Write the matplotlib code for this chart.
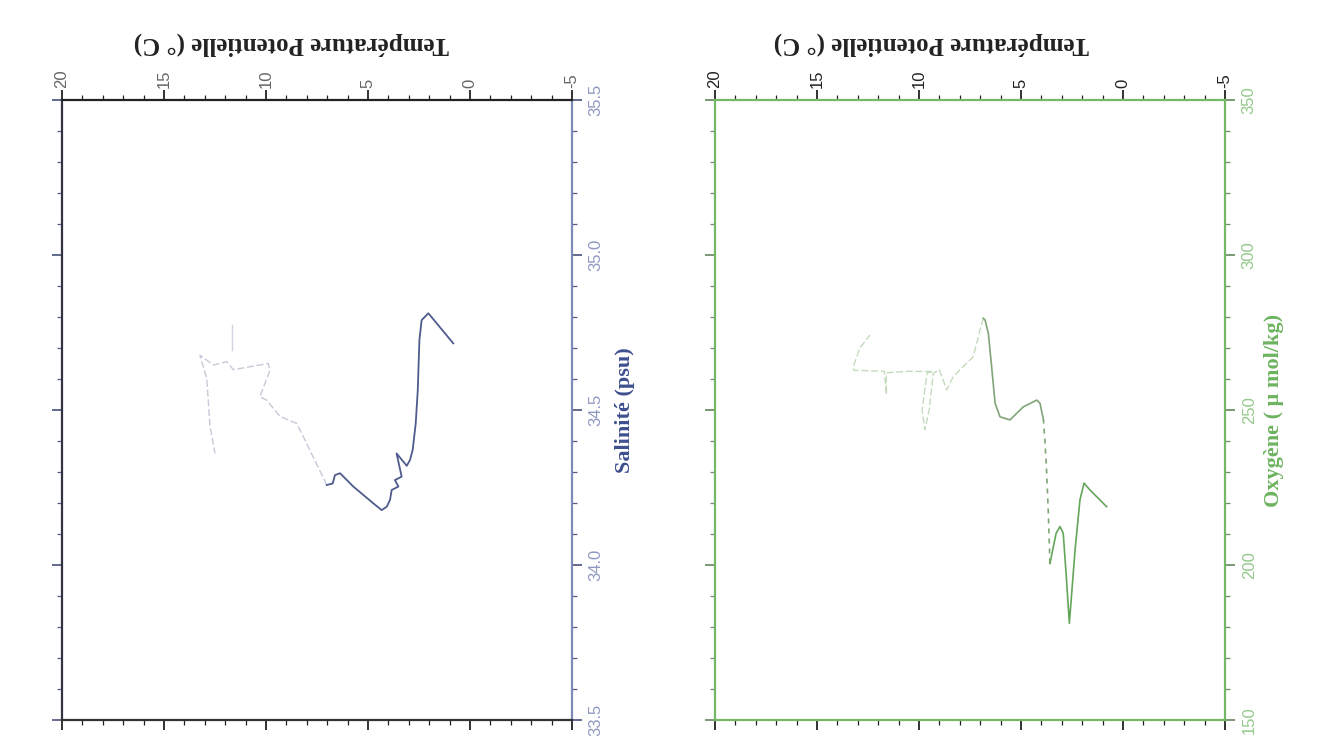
import matplotlib.pyplot as plt
import numpy as np

# Left panel: potential temperature vs salinity (deep part, then shallow noisy part)
ts_temp_deep = [0.82, 2.04, 2.37, 2.48, 2.56, 2.66, 2.81, 2.94, 3.10, 3.60, 3.35, 3.68,
                3.51, 3.84, 3.92, 4.08, 4.33, 4.74, 5.72, 6.37, 6.62, 6.73, 7.02]
ts_sal_deep = [34.715, 34.812, 34.790, 34.726, 34.565, 34.457, 34.371, 34.339, 34.320,
               34.360, 34.285, 34.274, 34.253, 34.242, 34.210, 34.188, 34.177, 34.199,
               34.253, 34.296, 34.290, 34.263, 34.258]
ts_temp_surf = [7.02, 8.17, 8.50, 9.31, 9.97, 10.30, 9.80, 9.89, 11.60, 11.93, 12.58,
                13.24, 12.90, 12.75, 12.50]
ts_sal_surf = [34.258, 34.414, 34.457, 34.479, 34.532, 34.543, 34.629, 34.650, 34.630,
               34.656, 34.645, 34.677, 34.600, 34.450, 34.360]

# Right panel: potential temperature vs oxygen
to_temp_deep = [0.80, 1.62, 1.91, 2.11, 2.35, 2.63, 2.79, 2.93, 3.09, 3.28, 3.58]
to_oxy_deep = [218.8, 224.2, 226.4, 221.0, 204.8, 181.2, 197.3, 210.2, 212.4, 210.2, 200.5]
to_temp_gap = [3.58, 3.66, 3.74, 3.82, 3.90]
to_oxy_gap = [200.5, 216.7, 229.6, 239.3, 246.8]
to_temp_mid = [3.90, 4.07, 4.23, 4.89, 5.54, 6.03, 6.27, 6.44, 6.60, 6.76, 6.85]
to_oxy_mid = [246.8, 252.2, 253.2, 251.0, 246.8, 247.8, 252.2, 264.0, 274.7, 279.0, 279.6]
to_temp_surf = [6.85, 7.00, 7.34, 8.32, 8.64, 9.00, 9.30, 9.50, 9.71, 9.85, 9.60, 9.30,
                10.5, 11.6, 11.6, 11.7, 13.2, 13.22, 12.9, 12.4]
to_oxy_surf = [279.6, 276.0, 267.2, 260.8, 256.5, 263.0, 261.8, 250.0, 243.6, 250.0,
               262.0, 262.4, 262.5, 262.0, 255.0, 262.5, 262.8, 264.0, 270.0, 274.2]

temp_ticks = [20, 15, 10, 5, 0, -5]
sal_ticks = [33.5, 34.0, 34.5, 35.0, 35.5]
oxy_ticks = [150, 200, 250, 300, 350]

serif = 'Liberation Serif'
sans = 'Liberation Sans'

fig = plt.figure(figsize=(13.35, 7.53), dpi=100)
ax1 = fig.add_axes([62 / 1335, 1 - 720 / 753, 510 / 1335, 620 / 753])
ax2 = fig.add_axes([715 / 1335, 1 - 720 / 753, 510 / 1335, 620 / 753])


def style_axes(ax, ylim, yticks, yminor, ylabel, side_col, label_col, tick_col, frame_col):
    ax.set_xlim(20, -5)
    ax.set_ylim(*ylim)
    ax.set_xticks(temp_ticks)
    ax.set_xticks(np.arange(-5, 21, 1), minor=True)
    ax.set_yticks(yticks)
    ax.set_yticks(yminor, minor=True)
    ax.set_xticklabels([str(t) for t in temp_ticks])
    ax.set_yticklabels([f'{v:g}' if isinstance(v, int) else f'{v:.1f}' for v in yticks])
    ax.xaxis.set_label_position('top')
    ax.yaxis.set_label_position('right')
    ax.tick_params(which='both', direction='out', top=True, bottom=True, left=True,
                   right=True, labeltop=True, labelbottom=False, labelleft=False,
                   labelright=True)
    ax.tick_params(which='major', length=7, width=1.3)
    ax.tick_params(which='minor', length=3.5, width=0.9)
    ax.tick_params(axis='x', which='both', colors='#222222', labelcolor='#666666',
                   labelrotation=90, labelsize=12, pad=2)
    ax.tick_params(axis='y', which='both', colors=tick_col, labelcolor=side_col,
                   labelrotation=90, labelsize=12, pad=5)
    for lab in ax.get_xticklabels() + ax.get_yticklabels():
        lab.set_family(sans)
    for lab in ax.get_yticklabels():
        lab.set_verticalalignment('center')
    for s in ['top', 'bottom', 'left', 'right']:
        ax.spines[s].set_color(frame_col[s])
        ax.spines[s].set_linewidth(1.6)
    ax.set_xlabel('Température Potentielle (° C)', family=serif, fontweight='bold',
                  fontsize=18, color='#222222', rotation=180)
    ax.xaxis.set_label_coords(0.45, 1.08)
    ax.set_ylabel(ylabel, family=serif, fontweight='bold', fontsize=16,
                  color=label_col, rotation=90, labelpad=5)


style_axes(ax1, (33.5, 35.5), sal_ticks, np.arange(33.5, 35.55, 0.1), 'Salinité (psu)',
           '#8f98c0', '#3e4f8e', '#555f85',
           {'top': '#222222', 'bottom': '#333333', 'left': '#333344', 'right': '#7e8ab8'})
style_axes(ax2, (150, 350), oxy_ticks, np.arange(150, 351, 10), 'Oxygène ( μ mol/kg)',
           '#93c98a', '#6cb35f', '#6f8f68',
           {'top': '#74b866', 'bottom': '#74b866', 'left': '#74b866', 'right': '#74b866'})
ax2.tick_params(axis='x', which='both', colors='#222222')
ax2.xaxis.set_label_coords(0.425, 1.08)
ax1.yaxis.labelpad = 8

ax1.plot(ts_temp_surf, ts_sal_surf, color='#c6cad8', lw=1.0, ls=(0, (5, 2)))
ax1.plot([11.68, 11.68], [34.694, 34.774], color='#d3d6e0', lw=1.0)
ax1.plot(ts_temp_deep, ts_sal_deep, color='#4f5b8c', lw=1.3)

ax2.plot(to_temp_surf, to_oxy_surf, color='#c4dcbd', lw=1.0, ls=(0, (5, 2)))
ax2.plot(to_temp_mid, to_oxy_mid, color='#7fa578', lw=1.2)
ax2.plot(to_temp_gap, to_oxy_gap, color='#7fa578', lw=1.2, ls=(0, (3, 3)))
ax2.plot(to_temp_deep, to_oxy_deep, color='#64a65a', lw=1.2)

fig.savefig('out.png', dpi=100, facecolor='white')
